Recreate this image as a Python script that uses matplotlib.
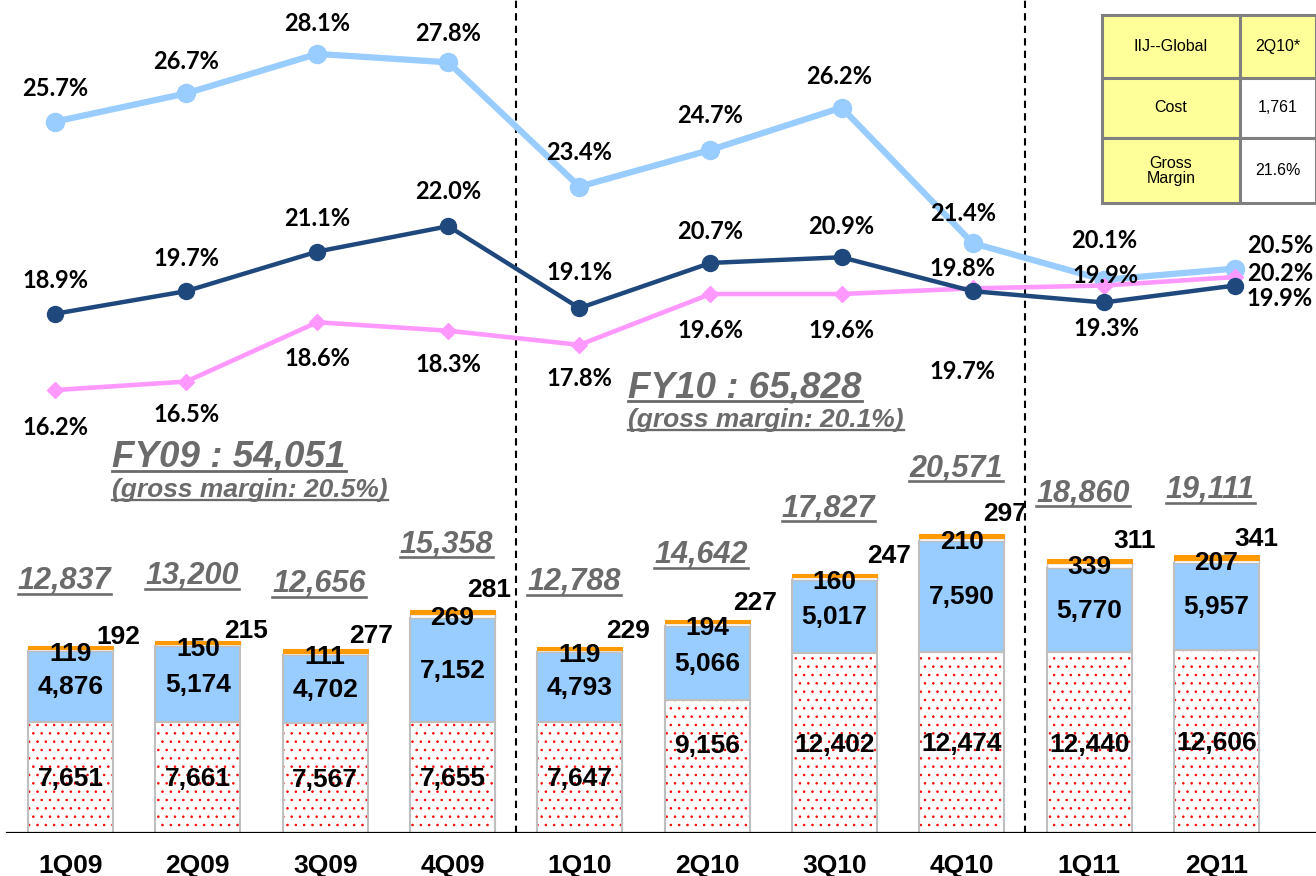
import matplotlib
matplotlib.use('Agg')
import matplotlib.pyplot as plt
from matplotlib.patches import Rectangle
from matplotlib.lines import Line2D
from matplotlib.transforms import IdentityTransform

# ---------------- data ----------------
quarters = ['1Q09', '2Q09', '3Q09', '4Q09', '1Q10', '2Q10', '3Q10', '4Q10', '1Q11', '2Q11']
seg_base = [7651, 7661, 7567, 7655, 7647, 9156, 12402, 12474, 12440, 12606]
seg_blue = [4876, 5174, 4702, 7152, 4793, 5066, 5017, 7590, 5770, 5957]
seg_white = [119, 150, 111, 269, 119, 194, 160, 210, 339, 207]
seg_orange = [192, 215, 277, 281, 229, 227, 247, 297, 311, 341]
totals = [12837, 13200, 12656, 15358, 12788, 14642, 17827, 20571, 18860, 19111]

margin_light = [25.7, 26.7, 28.1, 27.8, 23.4, 24.7, 26.2, 21.4, 20.1, 20.5]
margin_dark = [18.9, 19.7, 21.1, 22.0, 19.1, 20.7, 20.9, 19.7, 19.3, 19.9]
margin_pink = [16.2, 16.5, 18.6, 18.3, 17.8, 19.6, 19.6, 19.8, 19.9, 20.2]

fy_notes = [('FY09 : 54,051', '(gross margin: 20.5%)'),
            ('FY10 : 65,828', '(gross margin: 20.1%)')]

table_rows = [['IIJ--Global', '2Q10*'], ['Cost', '1,761'], ['Gross\nMargin', '21.6%']]

# ---------------- styles ----------------
W, H = 1316, 876
C_LIGHT = '#99CCFF'
C_DARK = '#1F497D'
C_PINK = '#FF99FF'
C_ORANGE = '#FF9900'
C_EDGE = '#BFBFBF'
C_GRAY = '#6B6B6B'
BAR_FONT = 'Liberation Sans'
PCT_FONT = 'Lato'

# label offsets in image pixels (dx, dy; dy positive = downward)
light_off = [(0, -33), (0, -32), (0, -30), (0, -29), (0, -34), (0, -34), (-2, -31), (-10, -30), (0, -39), (45, -23)]
dark_off = [(0, -33), (0, -33), (0, -33), (0, -35), (0, -36), (0, -31), (0, -31), (-10, 80), (3, 26), (45, 13)]
pink_off = [(0, 37), (0, 33), (0, 36), (0, 34), (0, 34), (0, 37), (0, 37), (-10, -20), (2, -10), (45, -4)]
orange_off = [(48, -9), (48, -10), (46, -13), (37, -20), (48, -16), (48, -17), (55, -18), (43, -20), (45, -18), (40, -16)]
base_off = [2, 2, 2, 2, 2, -20, 2, 2, 2, 2]

fig = plt.figure(figsize=(W / 100, H / 100), dpi=100)
fig.patch.set_facecolor('white')

# bar axes: baseline at y=833 px, top at 0
ax = fig.add_axes([0, (H - 833) / H, 1, 833 / H])
x0, step = 70.5, 127.33
ax.set_xlim(-x0 / step, 9 + (W - (x0 + 9 * step)) / step)
ax.set_ylim(0, 833 / 0.01454)
for s in ax.spines.values():
    s.set_visible(False)
ax.set_yticks([])

x = list(range(len(quarters)))
bw = 0.667
plt.rcParams['hatch.linewidth'] = 0.6
# base dotted segment (hatch drawn in red, outline separately in gray)
ax.bar(x, seg_base, bw, color='white', edgecolor='red', hatch='..', linewidth=0, zorder=2)
ax.bar(x, seg_base, bw, fill=False, edgecolor=C_EDGE, linewidth=1.5, zorder=3)
b2 = [a for a in seg_base]
ax.bar(x, seg_blue, bw, bottom=b2, color=C_LIGHT, edgecolor=C_EDGE, linewidth=1.5, zorder=3)
b3 = [a + b for a, b in zip(seg_base, seg_blue)]
ax.bar(x, seg_white, bw, bottom=b3, color='white', edgecolor=C_EDGE, linewidth=1.0, zorder=3)
b4 = [a + b for a, b in zip(b3, seg_white)]
ax.bar(x, seg_orange, bw, bottom=b4, color=C_ORANGE, edgecolor=C_ORANGE, linewidth=0.8, zorder=3)
tops = [a + b for a, b in zip(b4, seg_orange)]

# baseline and separators
ax.axhline(0, xmin=7 / W, xmax=1, color='black', lw=1.6, zorder=5)
for xs in (3.5, 7.5):
    ax.plot([xs, xs], [0, ax.get_ylim()[1]], color='black', lw=1.5,
            linestyle=(0, (3.5, 2.5)), zorder=4)

ax.set_xticks(x)
ax.set_xticklabels(quarters, fontsize=19, fontweight='bold', fontfamily=BAR_FONT)
ax.tick_params(axis='x', length=0, pad=15)

lab_kw = dict(fontsize=19, fontweight='bold', fontfamily=BAR_FONT, color='black',
              ha='center', va='center', zorder=6, textcoords='offset pixels')
underlined = []
for i in x:
    ax.annotate(f'{seg_base[i]:,}', (i, seg_base[i] / 2), xytext=(0, -base_off[i]), **lab_kw)
    ax.annotate(f'{seg_blue[i]:,}', (i, b2[i] + seg_blue[i] / 2), xytext=(0, -1), **lab_kw)
    ax.annotate(f'{seg_white[i]:,}', (i, tops[i]), xytext=(0, -8), **lab_kw)
    ax.annotate(f'{seg_orange[i]:,}', (i, tops[i]),
                xytext=(orange_off[i][0], -orange_off[i][1]), **lab_kw)
    t = ax.annotate(f'{totals[i]:,}', (i, tops[i]), xytext=(-6, 57), textcoords='offset pixels',
                    fontsize=22, fontweight='bold', fontstyle='italic', fontfamily=BAR_FONT,
                    color=C_GRAY, ha='center', va='baseline', zorder=6)
    underlined.append((t, 2.6))

# line axes
axl = fig.add_axes([0, (H - 833) / H, 1, 833 / H], facecolor='none')
lx0, lstep = 55, 131.1
axl.set_xlim(-lx0 / lstep, 9 + (W - (lx0 + 9 * lstep)) / lstep)
axl.set_ylim((847.7 - 833) / 28.25, 847.7 / 28.25)
axl.axis('off')
axl.plot(x, margin_light, color=C_LIGHT, lw=4.5, marker='o', ms=13, zorder=3)
axl.plot(x, margin_pink, color=C_PINK, lw=3.3, marker='D', ms=8.5, zorder=4)
axl.plot(x, margin_dark, color=C_DARK, lw=3.2, marker='o', ms=11.5, zorder=5)

pct_kw = dict(fontsize=17, fontweight='bold', fontfamily=PCT_FONT, color='black',
              ha='center', va='center', textcoords='offset pixels', zorder=7)
for vals, offs in ((margin_light, light_off), (margin_dark, dark_off), (margin_pink, pink_off)):
    for i, v in enumerate(vals):
        axl.annotate(f'{v:.1f}%', (i, v), xytext=(offs[i][0], -offs[i][1]), **pct_kw)

# FY notes
fy_pos = [(112, 467, 497), (628, 397, 427)]
for (big, small), (px, yb1, yb2) in zip(fy_notes, fy_pos):
    t1 = fig.text(px / W, 1 - yb1 / H, big, fontsize=26.5, fontweight='bold', fontstyle='italic',
                  fontfamily=BAR_FONT, color=C_GRAY, ha='left', va='baseline')
    t2 = fig.text(px / W, 1 - yb2 / H, small, fontsize=19, fontweight='bold', fontstyle='italic',
                  fontfamily=BAR_FONT, color=C_GRAY, ha='left', va='baseline')
    underlined.append((t1, 2.8))
    underlined.append((t2, 2.3))

# table
axt = fig.add_axes([1102 / W, (H - 203) / H, 214 / W, 188 / H])
axt.set_xlim(0, 214)
axt.set_ylim(188, 0)
axt.axis('off')
col_w = [138, 76]
row_h = [63, 60, 65]
yy = 0
for r, row in enumerate(table_rows):
    xx = 0
    for c, txt in enumerate(row):
        fc = '#FFFF99' if (r == 0 or c == 0) else 'white'
        axt.add_patch(Rectangle((xx, yy), col_w[c], row_h[r], facecolor=fc,
                                edgecolor='#808080', lw=2.2, clip_on=False))
        axt.text(xx + col_w[c] / 2, yy + row_h[r] / 2, txt, ha='center', va='center',
                 fontsize=11.5, fontfamily=BAR_FONT, linespacing=1.0)
        xx += col_w[c]
    yy += row_h[r]

# underlines
fig.canvas.draw()
rend = fig.canvas.get_renderer()
for t, lw in underlined:
    bb = t.get_window_extent(rend)
    fs = t.get_fontsize() * 100 / 72
    y = bb.y0 + 0.21 * fs - 4
    fig.add_artist(Line2D([bb.x0, bb.x1], [y, y], transform=IdentityTransform(),
                          color=C_GRAY, lw=lw * 0.72))

fig.savefig('out.png', dpi=100, facecolor='white')
